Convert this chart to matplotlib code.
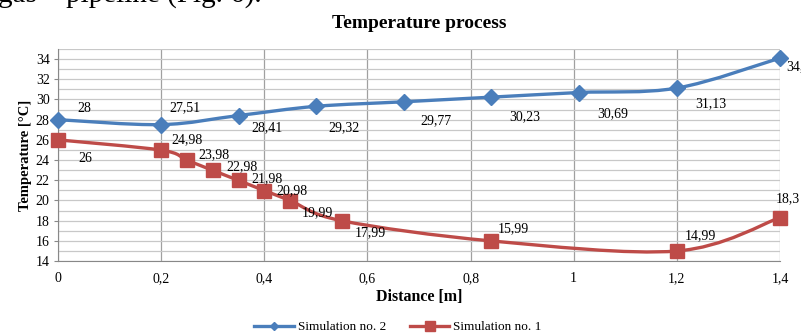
import matplotlib
matplotlib.use("Agg")
import matplotlib.pyplot as plt
from matplotlib.path import Path
from matplotlib.patches import PathPatch
from matplotlib.lines import Line2D
import numpy as np

plt.rcParams['font.family'] = ['Liberation Serif', 'DejaVu Serif']

# Simulation no. 2 (blue diamonds)
dist2 = [0, 0.2, 0.35, 0.5, 0.67, 0.84, 1.01, 1.2, 1.4]
temp2 = [28, 27.51, 28.41, 29.32, 29.77, 30.23, 30.69, 31.13, 34.1]
lab2 = ["28", "27,51", "28,41", "29,32", "29,77", "30,23", "30,69", "31,13", "34,1"]
# label offsets in pixels (dx, dy), y up
off2 = [(26, 11), (24, 17), (29, -12), (28, -21), (32, -19), (34, -20), (34, -21), (34, -16), (18, -9)]

# Simulation no. 1 (red squares)
dist1 = [0, 0.2, 0.25, 0.3, 0.35, 0.4, 0.45, 0.55, 0.84, 1.2, 1.4]
temp1 = [26, 24.98, 23.98, 22.98, 21.98, 20.98, 19.99, 17.99, 15.99, 14.99, 18.3]
lab1 = ["26", "24,98", "23,98", "22,98", "21,98", "20,98", "19,99", "17,99", "15,99", "14,99", "18,3"]
off1 = [(27, -19), (26, 10), (27, 6), (29, 4), (29, 2), (28, 0), (27, -12), (29, -12), (22, 12), (24, 15), (8, 19)]

blue = "#4A7EBB"
red = "#BE4B48"
xticks = [0, 0.2, 0.4, 0.6, 0.8, 1, 1.2, 1.4]
yticks = list(range(14, 35, 2))


def smooth_path(x, y):
    # Excel-like smoothed line: Catmull-Rom as cubic Bezier
    p = np.column_stack([x, y]).astype(float)
    n = len(p)
    verts = [p[0]]
    codes = [Path.MOVETO]
    for i in range(n - 1):
        p0 = p[i - 1] if i > 0 else p[i]
        p3 = p[i + 2] if i + 2 < n else p[i + 1]
        c1 = p[i] + (p[i + 1] - p0) / 6
        c2 = p[i + 1] - (p3 - p[i]) / 6
        verts += [c1, c2, p[i + 1]]
        codes += [Path.CURVE4] * 3
    return Path(verts, codes)


fig = plt.figure(figsize=(8.01, 3.33), dpi=100)
ax = fig.add_axes([58 / 801, 1 - 261 / 333, 722 / 801, 212 / 333])

ax.set_xlim(0, 1.4)
ax.set_ylim(14, 35)
ax.set_xticks(xticks)
ax.set_xticklabels(["0", "0,2", "0,4", "0,6", "0,8", "1", "1,2", "1,4"], fontsize=10)
ax.set_yticks(yticks)
ax.set_yticklabels([str(v) for v in yticks], fontsize=10)
ax.set_yticks(range(14, 36), minor=True)
ax.grid(True, which='both', axis='y', color='#c8c8c8', lw=0.9)
ax.grid(True, which='major', axis='x', color='#a0a0a0', lw=0.9)
ax.set_axisbelow(True)
for s in ['top', 'right']:
    ax.spines[s].set_visible(False)
for s in ['left', 'bottom']:
    ax.spines[s].set_color('#888888')
ax.tick_params(axis='y', which='major', length=3, color='#888888', pad=3)
ax.tick_params(axis='y', which='minor', length=0)
ax.tick_params(axis='x', length=0, pad=8)

for xs, ys, col, mk, ms in [(dist2, temp2, blue, 'D', 8), (dist1, temp1, red, 's', 10)]:
    ax.add_patch(PathPatch(smooth_path(xs, ys), fill=False, edgecolor=col, lw=2.4,
                           transform=ax.transData, clip_on=False))
    ax.plot(xs, ys, ls='none', marker=mk, ms=ms, color=col, clip_on=False, zorder=3)

for xs, ys, labs, offs in [(dist2, temp2, lab2, off2), (dist1, temp1, lab1, off1)]:
    for x, y, t, (dx, dy) in zip(xs, ys, labs, offs):
        ax.annotate(t, (x, y), xytext=(dx * 0.72, dy * 0.72), textcoords='offset points',
                    ha='center', va='center', fontsize=10, annotation_clip=False)

ax.set_title("Temperature process", fontsize=14, fontweight='bold', pad=15)
ax.set_xlabel("Distance [m]", fontsize=11.5, fontweight='bold', labelpad=3)
ax.set_ylabel("Temperature [°C]", fontsize=10.5, fontweight='bold', labelpad=3)

handles = [Line2D([], [], color=blue, lw=2.4, marker='D', ms=4),
           Line2D([], [], color=red, lw=2.4, marker='s', ms=7)]
fig.legend(handles, ["Simulation no. 2", "Simulation no. 1"], loc='center',
           bbox_to_anchor=(398 / 801, 1 - 327 / 333), ncol=2, frameon=False,
           fontsize=9.5, handlelength=3, columnspacing=1.8, handletextpad=0.3)

fig.text(-0.003, 1 - 1.5 / 333, "gas – pipeline (Fig. 6).", fontsize=21, va='baseline')

fig.savefig("out.png", dpi=100)
